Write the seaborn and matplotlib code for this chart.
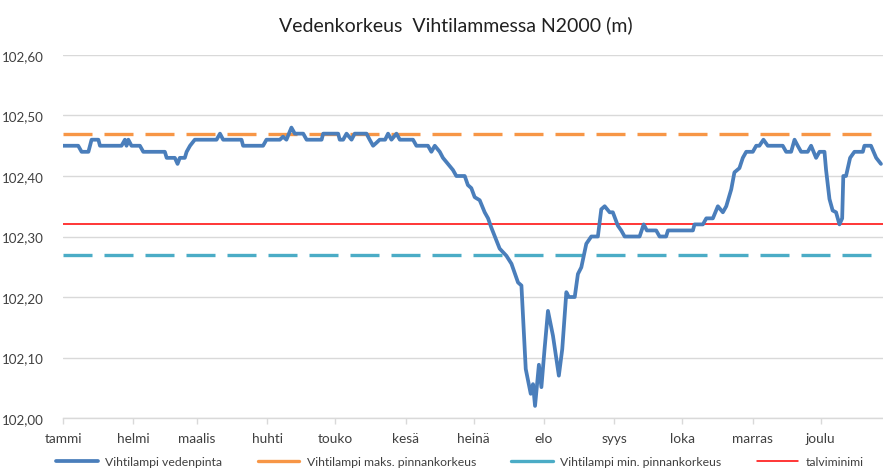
import matplotlib
matplotlib.use("Agg")
import matplotlib.pyplot as plt
import seaborn as sns
import pandas as pd
from matplotlib.lines import Line2D

# ---- data ----
months = ["tammi", "helmi", "maalis", "huhti", "touko", "kesä",
          "heinä", "elo", "syys", "loka", "marras", "joulu"]
month_start_day = [0, 31, 59, 90, 120, 151, 181, 212, 243, 273, 304, 334]

day = [0, 6.7, 8.2, 11.2, 12.6, 15.6, 16.3, 25.8, 27.3, 28.0, 28.8, 30.2, 33.9,
       35.4, 44.9, 45.7, 49.3, 50.5, 51.5, 53.7, 54.5, 56, 58.1, 67.7, 69.2,
       70.6, 78.7, 79.4, 80.9, 88.2, 89.7, 95.6, 97, 98.5, 100.7, 102.2, 105.9,
       107.4, 114, 114.7, 121.3, 122, 123.5, 125, 127.2, 128.6, 133.8, 135.2,
       136.7, 138.2, 139.6, 142, 143.3, 144.8, 147, 148.5, 154.3, 155.8, 160.9,
       162.4, 163.9, 166.1, 167.5, 169.7, 171.9, 173.4, 177.1, 178.5, 180,
       181.5, 183.7, 185.9, 187.4, 188.8, 192.5, 195.5, 197.7, 200.6, 202.1,
       202.8, 204, 206.2, 207.2, 208.1, 209.8, 210.9, 212.3, 213.8, 216, 218.6,
       220.1, 221.9, 223, 225.6, 227, 228.5, 230.7, 232.9, 235.8, 237.3, 238.8,
       241, 242.4, 244.6, 246.1, 247.6, 254.2, 256, 257.4, 261.5, 263, 265.9,
       266.7, 277.7, 278.4, 282.1, 283.6, 286.5, 288.7, 290.9, 292.4, 294.6,
       296, 298.2, 299.7, 301.2, 304.1, 305.6, 307, 308.8, 310.7, 317.3, 318.8,
       321, 322.5, 323.9, 325.4, 328.3, 329.8, 332, 333.5, 335.7, 336.4, 337.9,
       339.3, 340.8, 342.3, 343.5, 344, 345.2, 347, 348.9, 352.6, 353.3, 356.2,
       358.5, 360.6]
level = [102.45, 102.45, 102.44, 102.44, 102.46, 102.46, 102.45, 102.45, 102.46,
         102.45, 102.46, 102.45, 102.45, 102.44, 102.44, 102.43, 102.43, 102.42,
         102.43, 102.43, 102.44, 102.45, 102.46, 102.46, 102.47, 102.46, 102.46,
         102.45, 102.45, 102.45, 102.46, 102.46, 102.465, 102.46, 102.48, 102.47,
         102.47, 102.46, 102.46, 102.47, 102.47, 102.46, 102.46, 102.47, 102.46,
         102.47, 102.47, 102.46, 102.45, 102.455, 102.46, 102.46, 102.47, 102.46,
         102.47, 102.46, 102.46, 102.45, 102.45, 102.44, 102.45, 102.44, 102.43,
         102.42, 102.41, 102.40, 102.40, 102.385, 102.38, 102.365, 102.36,
         102.34, 102.33, 102.315, 102.28, 102.268, 102.255, 102.224, 102.219,
         102.169, 102.081, 102.04, 102.056, 102.02, 102.088, 102.051, 102.114,
         102.177, 102.136, 102.07, 102.114, 102.208, 102.20, 102.20, 102.238,
         102.249, 102.288, 102.30, 102.30, 102.345, 102.35, 102.34, 102.34,
         102.318, 102.31, 102.30, 102.30, 102.32, 102.31, 102.31, 102.30, 102.30,
         102.31, 102.31, 102.32, 102.32, 102.33, 102.33, 102.35, 102.34, 102.35,
         102.378, 102.406, 102.413, 102.43, 102.44, 102.44, 102.45, 102.45,
         102.46, 102.45, 102.45, 102.44, 102.44, 102.46, 102.45, 102.44, 102.44,
         102.45, 102.43, 102.44, 102.44, 102.41, 102.362, 102.343, 102.34,
         102.32, 102.33, 102.40, 102.40, 102.43, 102.44, 102.44, 102.45, 102.45,
         102.43, 102.42]

max_level = 102.47
min_level = 102.27
winter_min = 102.32

yticks = [102.00, 102.10, 102.20, 102.30, 102.40, 102.50, 102.60]

series_names = ["Vihtilampi vedenpinta", "Vihtilampi maks. pinnankorkeus",
                "Vihtilampi min. pinnankorkeus", "talviminimi"]
colors = ["#4a7ebb", "#f79646", "#4bacc6", "#ff0000"]

# ---- plot ----
sns.set_theme(style="white")
plt.rcParams["font.family"] = ["Lato", "DejaVu Sans"]

fig = plt.figure(figsize=(8.83, 4.77), dpi=100)
ax = fig.add_axes([63 / 883, 1 - 419 / 477, 1 - 63 / 883, (419 - 56) / 477])

df = pd.DataFrame({"day": day, "level": level})

ax.axhline(max_level, color=colors[1], lw=2.4, dashes=(8.7, 3.6), zorder=2)
ax.axhline(min_level, color=colors[2], lw=2.4, dashes=(8.7, 3.6), zorder=2)
ax.axhline(winter_min, color=colors[3], lw=1.1, zorder=2)
sns.lineplot(data=df, x="day", y="level", ax=ax, color=colors[0], lw=2.7,
             zorder=3, legend=False)

ax.set_xlim(0, 361.5)
ax.set_ylim(102.0, 102.6)
ax.set_yticks(yticks)
ax.set_yticklabels([f"{v:.2f}".replace(".", ",") for v in yticks],
                   fontsize=9.6, color="#404040")
ax.yaxis.grid(True, color="#d9d9d9", lw=1)
ax.xaxis.grid(False)
ax.tick_params(axis="y", length=0, pad=14)
ax.set_xticks(month_start_day)
ax.set_xticklabels(months, fontsize=9.8, color="#404040")
ax.tick_params(axis="x", length=4, width=1, color="#d9d9d9", direction="out",
               pad=6, bottom=True)
ax.set_xlabel("")
ax.set_ylabel("")
for s in ["top", "right", "left"]:
    ax.spines[s].set_visible(False)
ax.spines["bottom"].set_color("#d9d9d9")
ax.spines["bottom"].set_linewidth(1)

fig.text(0.516, 1 - 25 / 477, "Vedenkorkeus  Vihtilammessa N2000 (m)",
         ha="center", va="center", fontsize=14, color="#202020")

handles = [Line2D([0], [0], color=c, lw=lw) for c, lw in
           zip(colors, [2.7, 2.4, 2.4, 1.1])]
fig.legend(handles, series_names, loc="center", ncol=4,
           bbox_to_anchor=(0.521, 1 - 463 / 477), frameon=False,
           fontsize=8.8, handlelength=3.4, columnspacing=2.9, handletextpad=0.6,
           labelcolor="#404040")

fig.savefig("out.png", dpi=100)
